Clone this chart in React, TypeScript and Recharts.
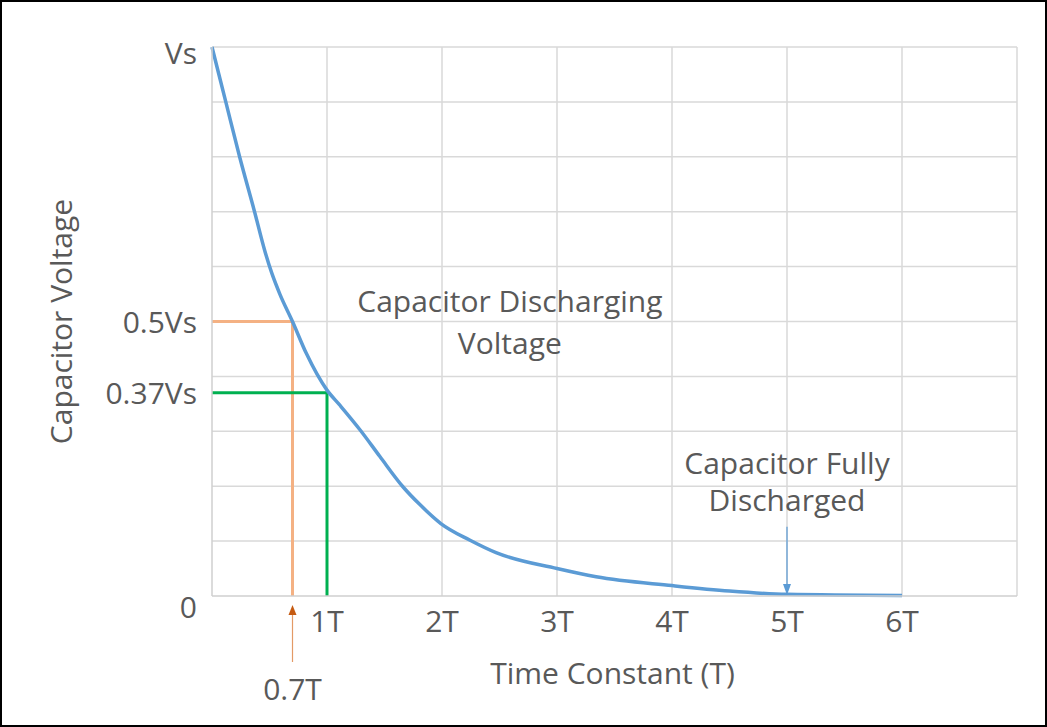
import React from "react";
import {
  LineChart,
  Line,
  XAxis,
  YAxis,
  ReferenceLine,
  ReferenceDot,
  Label,
} from "recharts";

// ---- data ----
const curveT = [0, 0.12, 0.24, 0.37, 0.46, 0.52, 0.59, 0.7, 0.82, 1, 1.11, 1.29, 1.46, 1.66, 1.81, 1.99, 2.24, 2.47, 3, 3.34, 4, 4.5, 5, 6];
const curveV = [1, 0.9, 0.8, 0.7, 0.628, 0.588, 0.55, 0.5, 0.442, 0.375, 0.348, 0.302, 0.254, 0.199, 0.166, 0.132, 0.102, 0.079, 0.05, 0.035, 0.019, 0.009, 0.003, 0.001];

const xTicks = [0.7, 1, 2, 3, 4, 5, 6];
const xTickLabels = ["0.7T", "1T", "2T", "3T", "4T", "5T", "6T"];
const yTicks = [0, 0.37, 0.5, 1];
const yTickLabels = ["0", "0.37Vs", "0.5Vs", "Vs"];
const gridX = [1, 2, 3, 4, 5, 6, 7];
const gridY = [0.1, 0.2, 0.3, 0.4, 0.5, 0.6, 0.7, 0.8, 0.9, 1];

const halfT = 0.7;
const halfV = 0.5;
const oneT = 1;
const oneV = 0.37;

const fullT = 5;
const fullArrowTop = 0.126;
const fullArrowTip = 0.002;

const annoDischarging = [
  { t: 2.59, v: 0.539, text: "Capacitor Discharging" },
  { t: 2.59, v: 0.461, text: "Voltage" },
];
const annoFull = [
  { t: 5.0, v: 0.244, text: "Capacitor Fully" },
  { t: 5.0, v: 0.175, text: "Discharged" },
];

const data = curveT.map((t, i) => ({ t, v: curveV[i] }));

const FONT = "'Open Sans', sans-serif";
const TEXT = "#595959";
const FS = 30;

const XTick = (props: any) => {
  const { x, y, payload } = props;
  const idx = xTicks.indexOf(payload.value);
  const label = xTickLabels[idx] ?? String(payload.value);
  if (payload.value === halfT) {
    return (
      <g>
        <line x1={x} y1={y + 18} x2={x} y2={y + 66} stroke="#E39A66" strokeWidth={1.2} />
        <path d={`M ${x} ${y + 9} L ${x - 4} ${y + 19} L ${x + 4} ${y + 19} Z`} fill="#C55A11" />
        <text x={x} y={y + 92} textAnchor="middle" dominantBaseline="central" fill={TEXT} fontSize={FS} fontFamily={FONT}>
          {label}
        </text>
      </g>
    );
  }
  return (
    <text x={x} y={y + 24} textAnchor="middle" dominantBaseline="central" fill={TEXT} fontSize={FS} fontFamily={FONT}>
      {label}
    </text>
  );
};

const YTick = (props: any) => {
  const { x, y, payload } = props;
  const idx = yTicks.indexOf(payload.value);
  const label = yTickLabels[idx] ?? String(payload.value);
  const dy = payload.value === 0 ? 10 : payload.value === 1 ? 5 : 0;
  return (
    <text x={x - 15} y={y + dy} textAnchor="end" dominantBaseline="central" fill={TEXT} fontSize={FS} fontFamily={FONT}>
      {label}
    </text>
  );
};

const textShape = (text: string) => (p: any) => (
  <text x={p.cx} y={p.cy} textAnchor="middle" dominantBaseline="central" fill={TEXT} fontSize={FS} fontFamily={FONT}>
    {text}
  </text>
);

const downArrowHead = (p: any) => (
  <path d={`M ${p.cx} ${p.cy} L ${p.cx - 4} ${p.cy - 11} L ${p.cx + 4} ${p.cy - 11} Z`} fill="#5B9BD5" />
);

export default function App() {
  return (
    <div style={{ position: "absolute", left: 0, top: 0, width: 1047, height: 727, background: "#fff" }}>
      <LineChart
        width={1047}
        height={727}
        data={data}
        margin={{ top: 47, right: 30, bottom: 101, left: 112 }}
      >
        <XAxis
          dataKey="t"
          type="number"
          domain={[0, 7]}
          ticks={xTicks}
          interval={0}
          tick={<XTick />}
          tickLine={false}
          tickSize={0}
          tickMargin={0}
          height={30}
          axisLine={{ stroke: "#CFCFCF", strokeWidth: 1.5 }}
        >
          <Label
            content={(p: any) => {
              const vb = p.viewBox;
              return (
                <text
                  x={vb.x + vb.width / 2 - 2}
                  y={vb.y + 76}
                  textAnchor="middle"
                  dominantBaseline="central"
                  fill={TEXT}
                  fontSize={FS}
                  fontFamily={FONT}
                >
                  Time Constant (T)
                </text>
              );
            }}
          />
        </XAxis>
        <YAxis
          type="number"
          domain={[0, 1]}
          ticks={yTicks}
          interval={0}
          width={100}
          tick={<YTick />}
          tickLine={false}
          tickSize={0}
          tickMargin={0}
          axisLine={{ stroke: "#CFCFCF", strokeWidth: 1.5 }}
        >
          <Label
            content={(p: any) => {
              const vb = p.viewBox;
              const cx = vb.x - 52;
              const cy = vb.y + vb.height / 2;
              return (
                <text
                  x={cx}
                  y={cy}
                  transform={`rotate(-90 ${cx} ${cy})`}
                  textAnchor="middle"
                  dominantBaseline="central"
                  fill={TEXT}
                  fontSize={FS}
                  fontFamily={FONT}
                >
                  Capacitor Voltage
                </text>
              );
            }}
          />
        </YAxis>

        {gridY.map((v) => (
          <ReferenceLine key={"gy" + v} y={v} stroke="#D9D9D9" strokeWidth={1.5} />
        ))}
        {gridX.map((v) => (
          <ReferenceLine key={"gx" + v} x={v} stroke="#D9D9D9" strokeWidth={1.5} />
        ))}

        <ReferenceLine segment={[{ x: 0, y: halfV }, { x: halfT, y: halfV }]} stroke="#F4B183" strokeWidth={3} />
        <ReferenceLine segment={[{ x: halfT, y: halfV }, { x: halfT, y: 0 }]} stroke="#F4B183" strokeWidth={3} />
        <ReferenceLine segment={[{ x: 0, y: oneV }, { x: oneT, y: oneV }]} stroke="#00B050" strokeWidth={3} />
        <ReferenceLine segment={[{ x: oneT, y: oneV }, { x: oneT, y: 0 }]} stroke="#00B050" strokeWidth={3} />

        <ReferenceLine segment={[{ x: fullT, y: fullArrowTop }, { x: fullT, y: fullArrowTip + 0.015 }]} stroke="#5B9BD5" strokeWidth={1.2} />
        <ReferenceDot x={fullT} y={fullArrowTip} r={0} shape={downArrowHead} ifOverflow="visible" />

        {annoDischarging.concat(annoFull).map((a) => (
          <ReferenceDot key={a.text} x={a.t} y={a.v} r={0} shape={textShape(a.text)} ifOverflow="visible" />
        ))}

        <Line
          type="monotone"
          dataKey="v"
          stroke="#5B9BD5"
          strokeWidth={3.5}
          dot={false}
          activeDot={false}
          isAnimationActive={false}
        />
      </LineChart>
      <div
        style={{
          position: "absolute",
          left: 0,
          top: 0,
          width: 1047,
          height: 727,
          boxSizing: "border-box",
          border: "2px solid #000",
          pointerEvents: "none",
        }}
      />
    </div>
  );
}
